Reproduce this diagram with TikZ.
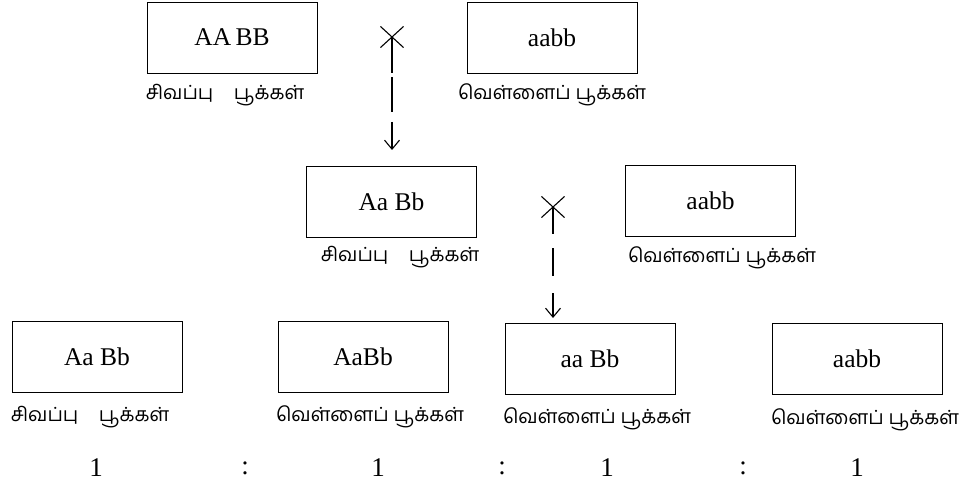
\documentclass[tikz,border=0pt]{standalone}
\usepackage{fontspec}
\setmainfont{Liberation Serif}
\newfontfamily\tamilfont[Script=Tamil]{Hind Madurai}
\usetikzlibrary{arrows.meta,shapes.misc}
\begin{document}
\begin{tikzpicture}[x=1pt,y=-1pt,
  gbox/.style={draw,line width=0.8pt,minimum width=170pt,minimum height=71pt,inner sep=0pt,font=\fontsize{25.5}{30}\selectfont},
  tlabel/.style={font=\tamilfont\fontsize{19.5}{22}\selectfont,inner sep=0pt},
  num/.style={font=\fontsize{27}{30}\selectfont,inner sep=0pt},
  crossmark/.style={cross out,draw,line width=1.1pt,minimum width=22pt,minimum height=20pt,inner sep=0pt},
  crossline/.style={line width=1.1pt,-{Straight Barb[length=9pt,width=15pt]}}
]
\useasboundingbox (0,0) rectangle (963,489);
% top row
\node[gbox] (p1) at (232,37.5) {AA\,BB};
\node[tlabel] (l1) at (225,95) {சிவப்பு\hspace{1.05em}பூக்கள்};
\node[gbox] (p2) at (552,37.5) {aabb};
\node[tlabel] (l2) at (552,95) {வெள்ளைப் பூக்கள்};
\node[crossmark] (x1) at (392,37) {};
\coordinate (t1) at (392,150);
\draw[crossline,dash pattern=on 36pt off 4pt on 35pt off 10pt] (x1.center) -- (t1);
% middle row
\node[gbox] (f1) at (391.5,201.5) {Aa Bb};
\node[tlabel] (l3) at (400,257) {சிவப்பு\hspace{1.05em}பூக்கள்};
\node[gbox] (f2) at (710.5,201) {aabb};
\node[tlabel] (l4) at (722,258) {வெள்ளைப் பூக்கள்};
\node[crossmark] (x2) at (553,207) {};
\coordinate (t2) at (553,318);
\draw[crossline,dash pattern=on 27pt off 14pt on 28pt off 17pt] (x2.center) -- (t2);
% bottom row
\node[gbox] (o1) at (97,356.5) {Aa Bb};
\node[tlabel] (l5) at (90,417) {சிவப்பு\hspace{1.05em}பூக்கள்};
\node[gbox] (o2) at (363,356.5) {AaBb};
\node[tlabel] (l6) at (370,417) {வெள்ளைப் பூக்கள்};
\node[gbox] (o3) at (590,359) {aa Bb};
\node[tlabel] (l7) at (597,419) {வெள்ளைப் பூக்கள்};
\node[gbox] (o4) at (857,359) {aabb};
\node[tlabel] (l8) at (865,420) {வெள்ளைப் பூக்கள்};
% ratio
\node[num] (n1) at (96,468) {1};
\node[num] (c1) at (245,468) {:};
\node[num] (n2) at (378,468) {1};
\node[num] (c2) at (502,468) {:};
\node[num] (n3) at (607,468) {1};
\node[num] (c3) at (743,468) {:};
\node[num] (n4) at (857,468) {1};
\end{tikzpicture}
\end{document}
